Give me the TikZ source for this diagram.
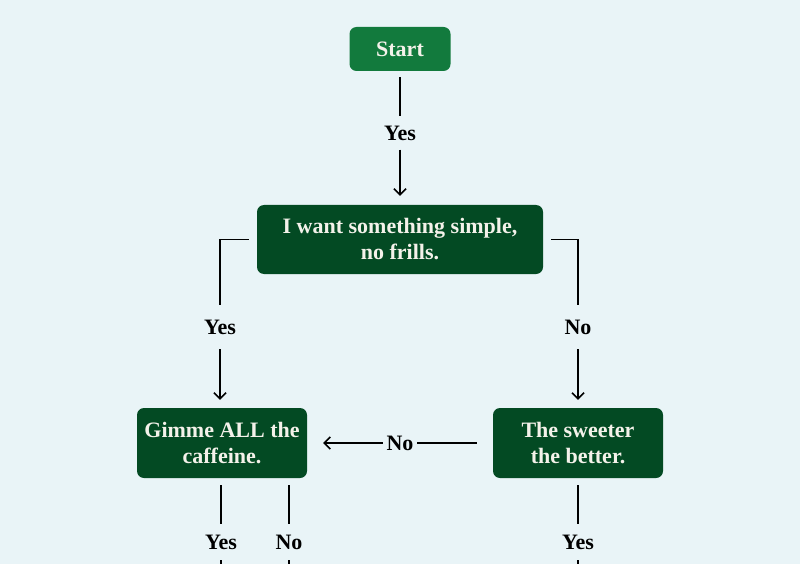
\documentclass[tikz,border=0pt]{standalone}
\usepackage{fontspec}
\setmainfont{Liberation Serif}
\usetikzlibrary{arrows.meta,calc}
\definecolor{bg}{HTML}{E9F4F7}
\definecolor{startgreen}{HTML}{127A3D}
\definecolor{darkgreen}{HTML}{034A23}
\definecolor{cream}{HTML}{F4F2EA}
\begin{document}
\begin{tikzpicture}[x=1pt,y=-1pt,
  box/.style={rounded corners=7pt, fill=darkgreen, text=cream,
    font=\fontsize{22}{26}\selectfont\bfseries, align=center, inner sep=0pt},
  lab/.style={font=\fontsize{22}{26}\selectfont\bfseries, inner sep=0pt, text=black},
  conn/.style={line width=1.5pt, draw=black},
  arr/.style={conn, -{Straight Barb[length=6pt,width=12pt,line width=1.5pt]}}]
\fill[bg] (0,0) rectangle (800,564);
\useasboundingbox (0,0) rectangle (800,564);
% boxes
\node[box, fill=startgreen, minimum width=101pt, minimum height=44pt] (start) at (400,49) {Start};
\node[box, minimum width=286pt, minimum height=69pt] (main) at (400,239.5) {I want something simple,\\no frills.};
\node[box, minimum width=170pt, minimum height=70pt] (gimme) at (222,443) {Gimme ALL the\\caffeine.};
\node[box, minimum width=170pt, minimum height=70pt] (sweet) at (578,443) {The sweeter\\the better.};
% labels
\node[lab, minimum height=33pt] (yes1) at (400,133) {Yes};
\node[lab, minimum height=44pt] (yesL) at (220,327) {Yes};
\node[lab, minimum height=44pt] (noR) at (578,327) {No};
\node[lab, minimum width=34pt] (noM) at (400,443) {No};
\node[lab, minimum height=36pt] (yesB1) at (221,542) {Yes};
\node[lab, minimum height=36pt] (noB1) at (289,542) {No};
\node[lab, minimum height=36pt] (yesB2) at (578,542) {Yes};
\coordinate (endB1) at (221,580);
\coordinate (endB2) at (289,580);
\coordinate (endB3) at (578,580);
% connectors
\draw[conn, shorten <=6pt] (start.south) -- (yes1.north);
\draw[arr, shorten >=9pt] (yes1.south) -- (main.north);
\draw[conn, shorten <=8pt] (main.west) -| (yesL.north);
\draw[arr, shorten >=8pt] (yesL.south) -- (yesL.south |- gimme.north);
\draw[conn, shorten <=8pt] (main.east) -| (noR.north);
\draw[arr, shorten >=8pt] (noR.south) -- (sweet.north);
\draw[conn, shorten <=16pt] (sweet.west) -- (noM.east);
\draw[arr, shorten >=16pt] (noM.west) -- (gimme.east);
\draw[conn, shorten <=7pt] (yesB1.north |- gimme.south) -- (yesB1.north);
\draw[conn] (yesB1.south) -- (endB1);
\draw[conn, shorten <=7pt] (noB1.north |- gimme.south) -- (noB1.north);
\draw[conn] (noB1.south) -- (endB2);
\draw[conn, shorten <=7pt] (sweet.south) -- (yesB2.north);
\draw[conn] (yesB2.south) -- (endB3);
\end{tikzpicture}
\end{document}
